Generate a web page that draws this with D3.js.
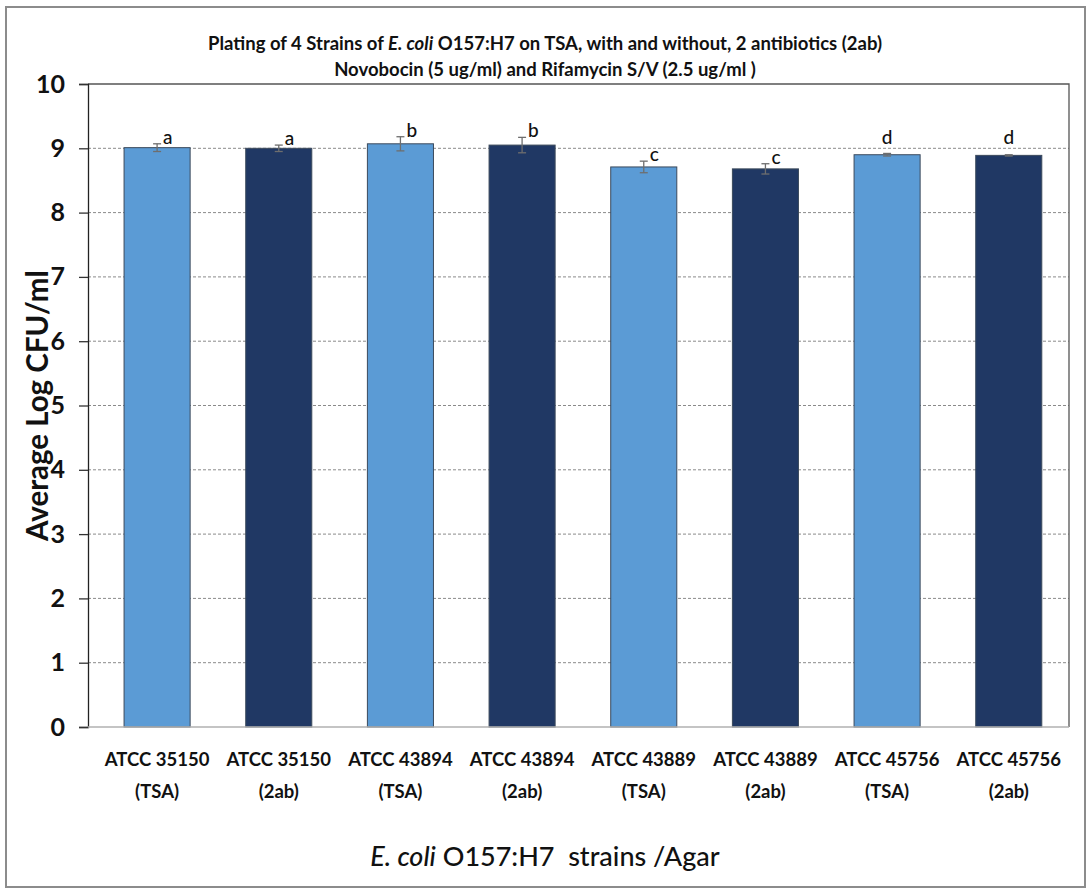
<!DOCTYPE html>
<html>
<head>
<meta charset="utf-8">
<script src="https://cdn.jsdelivr.net/npm/d3@7"></script>
<style>
  body { margin: 0; background: #fff; }
  text { font-family: Lato, "Open Sans", sans-serif; }
</style>
</head>
<body>
<div id="chart"></div>
<script>
// values
var strains = ["ATCC 35150", "ATCC 35150", "ATCC 43894", "ATCC 43894",
               "ATCC 43889", "ATCC 43889", "ATCC 45756", "ATCC 45756"];
var agar = ["TSA", "2ab", "TSA", "2ab", "TSA", "2ab", "TSA", "2ab"];
var means = [9.01, 9.00, 9.07, 9.05, 8.71, 8.68, 8.90, 8.89];
var errors = [0.06, 0.05, 0.11, 0.12, 0.09, 0.08, 0.02, 0.01];
var letters = ["a", "a", "b", "b", "c", "c", "d", "d"];
var yTicks = [0, 1, 2, 3, 4, 5, 6, 7, 8, 9, 10];

var width = 1087, height = 888;
var margin = {left: 88, right: 18, top: 84, bottom: 161};

var svg = d3.select("#chart").append("svg")
  .attr("width", width).attr("height", height);

// outer frame
svg.append("rect")
  .attr("x", 6).attr("y", 7).attr("width", 1079).attr("height", 880)
  .attr("fill", "none").attr("stroke", "#8c8c8c").attr("stroke-width", 2);

var x = d3.scaleBand()
  .domain(d3.range(means.length))
  .range([margin.left, width - margin.right])
  .paddingInner(0.457).paddingOuter(0.26).align(0.57);

var y = d3.scaleLinear().domain([0, 10])
  .range([height - margin.bottom, margin.top]);

// dashed grid lines
svg.append("g").selectAll("line")
  .data(yTicks.filter(function(t) { return t > 0 && t < 10; }))
  .join("line")
  .attr("x1", margin.left).attr("x2", width - margin.right)
  .attr("y1", function(d) { return y(d); }).attr("y2", function(d) { return y(d); })
  .attr("stroke", "#8a8a8a").attr("stroke-width", 1)
  .attr("stroke-dasharray", "3,2");

// top and right of plot area
svg.append("path")
  .attr("d", "M" + margin.left + "," + y(10) + "H" + (width - margin.right) + "V" + y(0))
  .attr("fill", "none").attr("stroke", "#555").attr("stroke-width", 1.3);

// bars
svg.append("g").selectAll("rect")
  .data(means)
  .join("rect")
  .attr("x", function(d, i) { return x(i); })
  .attr("y", function(d) { return y(d); })
  .attr("width", x.bandwidth())
  .attr("height", function(d) { return y(0) - y(d); })
  .attr("fill", function(d, i) { return i % 2 === 0 ? "#5b9bd5" : "#203864"; })
  .attr("stroke", "#3c4a5c").attr("stroke-width", 1);

// error bars
var eb = svg.append("g").attr("stroke", "#6e6e6e").attr("stroke-width", 1.3);
means.forEach(function(m, i) {
  var cx = x(i) + x.bandwidth() / 2;
  eb.append("line").attr("x1", cx).attr("x2", cx)
    .attr("y1", y(m + errors[i])).attr("y2", y(m - errors[i]));
  [m + errors[i], m - errors[i]].forEach(function(v) {
    eb.append("line").attr("x1", cx - 4).attr("x2", cx + 4)
      .attr("y1", y(v)).attr("y2", y(v));
  });
});

// significance letters
svg.append("g").selectAll("text")
  .data(letters)
  .join("text")
  .attr("x", function(d, i) {
    var cx = x(i) + x.bandwidth() / 2;
    return errors[i] > 0.03 ? cx + 6 : cx;
  })
  .attr("y", function(d, i) {
    return errors[i] > 0.03 ? y(means[i] + errors[i]) : y(means[i]) - 11;
  })
  .attr("text-anchor", function(d, i) { return errors[i] > 0.03 ? "start" : "middle"; })
  .attr("font-size", 19).attr("font-weight", 500).attr("fill", "#111")
  .text(function(d) { return d; });

// y axis
var yAxis = svg.append("g")
  .attr("transform", "translate(" + margin.left + ",0)")
  .call(d3.axisLeft(y).tickValues(yTicks).tickSize(9).tickPadding(14));
yAxis.select(".domain").attr("stroke", "#222").attr("stroke-width", 1.3);
yAxis.selectAll(".tick line").attr("stroke", "#333").attr("stroke-width", 1.3);
yAxis.selectAll(".tick text")
  .attr("font-size", 25).attr("font-weight", "bold").attr("fill", "#111")
  .style("font-family", "Lato, sans-serif");

// x axis baseline
svg.append("line")
  .attr("x1", margin.left).attr("x2", width - margin.right)
  .attr("y1", y(0)).attr("y2", y(0))
  .attr("stroke", "#b0b0b0").attr("stroke-width", 1.5);

// x labels, two lines
var xl = svg.append("g").selectAll("text")
  .data(strains)
  .join("text")
  .attr("text-anchor", "middle")
  .attr("font-size", 18.5).attr("font-weight", "bold").attr("fill", "#111")
  .attr("transform", function(d, i) {
    return "translate(" + (x(i) + x.bandwidth() / 2) + "," + (y(0) + 39) + ")";
  });
xl.append("tspan").attr("x", 0).attr("dy", 0).text(function(d) { return d; });
xl.append("tspan").attr("x", 0).attr("dy", 32)
  .text(function(d, i) { return "(" + agar[i] + ")"; });

// title
var title = svg.append("g").attr("font-size", 18.5).attr("font-weight", "bold")
  .attr("fill", "#111").attr("text-anchor", "middle");
var t1 = title.append("text").attr("x", 545).attr("y", 50);
t1.append("tspan").text("Plating of 4 Strains of ");
t1.append("tspan").attr("font-style", "italic").text("E. coli");
t1.append("tspan").text(" O157:H7 on TSA, with and without, 2 antibiotics (2ab)");
title.append("text").attr("x", 545).attr("y", 76)
  .text("Novobocin (5 ug/ml) and Rifamycin S/V (2.5 ug/ml )");

// axis titles
svg.append("text")
  .attr("transform", "translate(48," + (y(5)) + ") rotate(-90)")
  .attr("text-anchor", "middle")
  .attr("font-size", 29.5).attr("font-weight", "bold").attr("fill", "#111")
  .text("Average Log CFU/ml");

var xt = svg.append("text")
  .attr("x", 545).attr("y", 866)
  .attr("text-anchor", "middle")
  .attr("font-size", 27).attr("font-weight", 500).attr("fill", "#111");
xt.append("tspan").attr("font-style", "italic").text("E. coli");
xt.append("tspan").text(" O157:H7\u00a0\u00a0strains /Agar");
</script>
</body>
</html>
